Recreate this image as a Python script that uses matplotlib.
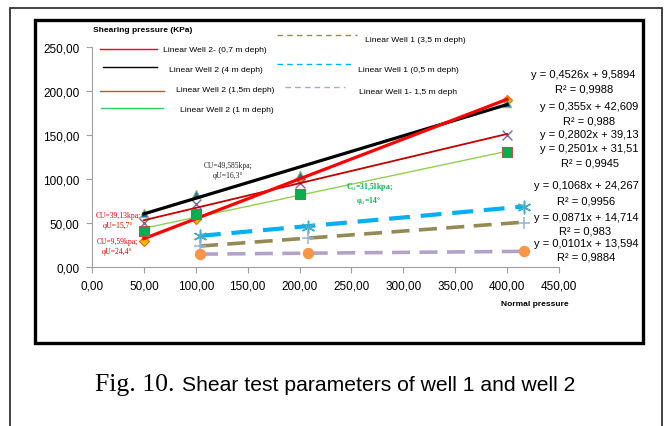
import numpy as np
import matplotlib
matplotlib.use("Agg")
import matplotlib.pyplot as plt
from matplotlib.lines import Line2D
from matplotlib.patches import Rectangle
from matplotlib.ticker import FuncFormatter, MultipleLocator

# well 2 - shear box at 50/100/200/400 kPa
x_w2 = [50, 100, 200, 400]
w2_07 = [30, 55, 100, 190]     # 0,7 m
w2_4 = [61, 83, 104, 186]      # 4 m
w2_15 = [50, 72, 96, 150]      # 1,5 m
w2_1 = [41, 60, 83, 131]       # 1 m

# well 1
x_w1 = [104, 208, 416]
w1_05 = [35, 46, 68]           # 0,5 m
w1_35 = [24, 33, 50]           # 3,5 m
w1_15 = [14.6, 15.7, 17.8]     # 1,5 m

# linear trend lines (slope, intercept, R2)
slopes = [0.4526, 0.355, 0.2802, 0.2501, 0.1068, 0.0871, 0.0101]
intercepts = [9.5894, 42.609, 39.13, 31.51, 24.267, 14.714, 13.594]
r2 = [0.9988, 0.988, None, 0.9945, 0.9956, 0.983, 0.9884]

legend_labels = ["Linear Well 2- (0,7 m deph)", "Linear Well 2 (4 m deph)",
                 "Linear Well 2 (1,5m deph)", "Linear Well 2 (1 m deph)",
                 "Linear Well 1 (3,5 m deph)", "Linear Well 1 (0,5 m deph)",
                 "Linear Well 1- 1,5 m deph"]

W, H = 665, 427
fig = plt.figure(figsize=(W / 100, H / 100), dpi=100)
sans = "Liberation Sans"


def px(x):
    return x / W


def py(y):
    return 1 - y / H


def comma(v, dec):
    return f"{v:.{dec}f}".replace(".", ",")


# frames
fig.patches.append(Rectangle((px(10), -0.02), px(662) - px(10), py(9) + 0.02,
                             transform=fig.transFigure, fill=False,
                             lw=1.3, ec="#333333"))
fig.patches.append(Rectangle((px(35), py(344)), px(643) - px(35), py(21) - py(344),
                             transform=fig.transFigure, fill=False,
                             lw=2.4, ec="black"))

ax = fig.add_axes([px(92), py(268), px(559) - px(92), py(48) - py(268)])
ax.set_xlim(0, 450)
ax.set_ylim(0, 250)
ax.xaxis.set_major_locator(MultipleLocator(50))
ax.yaxis.set_major_locator(MultipleLocator(50))
fmt = FuncFormatter(lambda v, p: comma(v, 2))
ax.xaxis.set_major_formatter(fmt)
ax.yaxis.set_major_formatter(fmt)
for s in ["top", "right"]:
    ax.spines[s].set_visible(False)
for s in ["left", "bottom"]:
    ax.spines[s].set_color("#a0a0a0")
    ax.spines[s].set_linewidth(0.8)
ax.tick_params(direction="out", length=4, color="#a0a0a0", labelsize=8.5,
               pad=5)
for lab in ax.get_xticklabels() + ax.get_yticklabels():
    lab.set_fontfamily(sans)


def trend(i, x0, x1, **kw):
    xs = np.array([x0, x1])
    ax.plot(xs, slopes[i] * xs + intercepts[i], **kw)


# well 2 trend lines
trend(3, 50, 400, color="#92D050", lw=1.0, zorder=3)
trend(2, 50, 400, color="#C00000", lw=1.3, zorder=3)
trend(1, 50, 400, color="black", lw=2.3, zorder=3)
trend(0, 50, 400, color="#FF0000", lw=2.3, zorder=4)

# well 1 trend lines
dash = (0, (5, 2.6))
trend(4, 104, 416, color="#00B0F0", lw=3.0, ls=dash, zorder=3)
trend(5, 104, 416, color="#948A54", lw=2.6, ls=dash, zorder=3)
trend(6, 104, 416, color="#B3A2C7", lw=2.6, ls=dash, zorder=3)

# markers
ax.scatter(x_w2, w2_07, marker="D", s=26, c="#F5B700", edgecolors="#E46C0A",
           lw=0.8, zorder=2)
ax.scatter(x_w2, w2_4, marker="^", s=36, c="#1F6FB5", edgecolors="#9BBB59",
           lw=0.8, zorder=2)
ax.scatter(x_w2, w2_15, marker="x", s=50, c="#8064A2", lw=1.0, zorder=2)
ax.scatter(x_w2, w2_1, marker="s", s=48, c="#00B050", edgecolors="#C0504D",
           lw=0.8, zorder=5)
ax.scatter(x_w1, w1_05, marker=(6, 2, 0), s=80, c="#4BACC6", lw=1.1, zorder=5)
ax.scatter(x_w1, w1_35, marker="+", s=70, c="#95B3D7", lw=1.1, zorder=5)
ax.scatter(x_w1, w1_15, marker="o", s=52, c="#F79646", edgecolors="#F79646",
           zorder=5)

# axis titles
fig.text(px(93), py(31), "Shearing pressure (KPa)", fontsize=6,
         fontweight="bold", family=sans, va="center")
fig.text(px(535), py(304), "Normal pressure", fontsize=6,
         fontweight="bold", family=sans, va="center", ha="center")

# legend drawn in free positions
leg = [
    (100, 157, 50, 163, 50, "#FF0000", "-"),
    (103, 157, 68, 169, 70, "black", "-"),
    (100, 164, 92, 176, 91, "#C55A11", "-"),
    (101, 163, 109, 180, 110, "#33CC66", "-"),
    (277, 357, 36, 365, 40, "#948A54", (0, (4, 3))),
    (277, 352, 65, 358, 70, "#00B0F0", (0, (4, 3))),
    (285, 345, 88, 359, 92, "#B3A2C7", (0, (4, 3))),
]
for (x0, x1, yl, xt, yt, col, ls), lab in zip(leg, legend_labels):
    fig.lines.append(Line2D([px(x0), px(x1)], [py(yl), py(yl)],
                            transform=fig.transFigure, color=col, lw=1.0,
                            ls=ls))
    fig.text(px(xt), py(yt), lab, fontsize=6.1, family=sans, va="center")

# equations
eq_pos = [(583, 75), (589, 107), (589, 135), (589, 149), (586, 186),
          (586, 218), (586, 244)]
r2_pos = [(584, 90), (589, 121), None, (590, 164), (586, 201), (585, 232),
          (586, 258)]
for i in range(len(slopes)):
    s = str(slopes[i]).replace(".", ",")
    b = str(intercepts[i]).replace(".", ",")
    fig.text(px(eq_pos[i][0]), py(eq_pos[i][1]), f"y = {s}x + {b}",
             fontsize=8, family=sans, ha="center", va="center")
    if r2[i] is not None:
        r = str(r2[i]).replace(".", ",")
        fig.text(px(r2_pos[i][0]), py(r2_pos[i][1]), f"R² = {r}",
                 fontsize=8, family=sans, ha="center", va="center")

# strength parameters
ser = "Liberation Serif"
fig.text(px(228), py(171), "CU=49,585kpa;\nφU=16,3°", fontsize=5.5,
         family=ser, ha="center", va="center", color="#222222",
         linespacing=1.2)
fig.text(px(118), py(221), "CU=39,13kpa;\nφU=15,7°", fontsize=5.5,
         family=ser, ha="center", va="center", color="#E00000",
         linespacing=1.2)
fig.text(px(117), py(247), "CU=9,59kpa;\nφU=24,4°", fontsize=5.5,
         family=ser, ha="center", va="center", color="#E00000",
         linespacing=1.2)
fig.text(px(369), py(194), "C$_u$=31,51kpa;\nφ$_u$=14°", fontsize=5.5,
         family=ser, ha="center", va="center", color="#00B050",
         fontweight="bold", linespacing=1.2)

# caption
fig.text(px(95), py(391), "Fig. 10.", fontsize=18.5, family="Liberation Serif",
         va="baseline")
fig.text(px(182), py(391), "Shear test parameters of well 1 and well 2",
         fontsize=15.2, family=sans, va="baseline")

fig.savefig("out.png", dpi=100)
